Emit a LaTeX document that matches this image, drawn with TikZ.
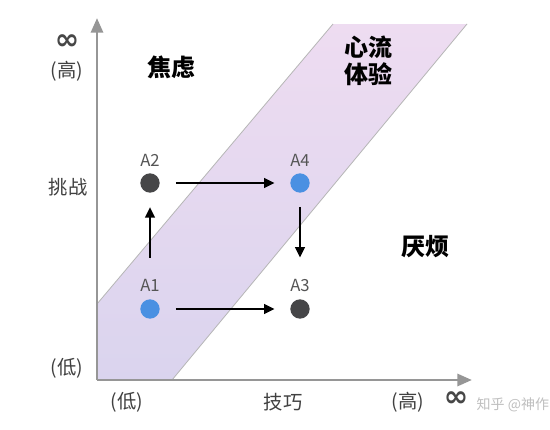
\documentclass[tikz,border=0pt]{standalone}
\usepackage{amsmath,amssymb}
\usepackage{fontspec}
\setmainfont{Noto Sans CJK SC}
\newfontfamily\cjk{Noto Sans CJK SC}
\newfontfamily\symb{DejaVu Sans}
\usetikzlibrary{arrows.meta}

\definecolor{axisgray}{RGB}{150,150,150}
\definecolor{dotgray}{RGB}{70,70,72}
\definecolor{dotblue}{RGB}{74,144,226}
\definecolor{bandlow}{RGB}{218,212,238}
\definecolor{bandhigh}{RGB}{238,220,241}
\definecolor{labgray}{RGB}{85,85,85}

\tikzset{
  dotA/.style={circle,fill=dotblue,minimum size=14.5pt,inner sep=0pt},
  dotB/.style={circle,fill=dotgray,minimum size=14.5pt,inner sep=0pt},
  ptlabel/.style={text=labgray,font=\fontsize{12.5}{12.5}\selectfont},
  zone/.style={font=\cjk\bfseries\fontsize{18}{20}\selectfont,align=center},
  ticktext/.style={text=black!75,font=\cjk\fontsize{14.5}{14.5}\selectfont},
  infsign/.style={text=black!72,font=\symb\bfseries\fontsize{22}{22}\selectfont},
  move/.style={-{Triangle[length=8pt,width=7pt]},line width=2pt,black},
}

\begin{document}
\begin{tikzpicture}[x=0.75pt,y=0.75pt,yscale=-1,xscale=1]
        \useasboundingbox (0,0) rectangle (550,429);
        \fill[white] (0,0) rectangle (550,429);

        %Band [id:flow]
        \shade[bottom color=bandlow,top color=bandhigh] (97,380) -- (97,304) -- (333,24) -- (467,24) -- (172,380) -- cycle;
        \draw[axisgray!70,line width=0.6pt] (97,304) -- (333,24);
        \draw[axisgray!70,line width=0.6pt] (172,380) -- (467,24);

        %Axes
        \draw[axisgray,line width=2.2pt,-{Triangle[length=11pt,width=9pt]}] (97,380) -- (97,18);
        \draw[axisgray,line width=2.2pt,-{Triangle[length=11pt,width=9pt]}] (97,380) -- (472,380);

        % Dots
        \node[dotB] (a2) at (150,183) {};
        \node[dotA] (a4) at (300,183) {};
        \node[dotA] (a1) at (150,309) {};
        \node[dotB] (a3) at (300,309) {};
        \node[ptlabel] (la2) at (150,160) {A2};
        \node[ptlabel] (la4) at (300,160) {A4};
        \node[ptlabel] (la1) at (150,285) {A1};
        \node[ptlabel] (la3) at (300,285) {A3};

        %Straight Lines
        \draw[move,shorten <=12pt,shorten >=11.5pt] (a2) -- (a4);
        \draw[move,shorten <=12pt,shorten >=11.5pt] (a1) -- (a3);
        \draw[move,shorten <=31pt,shorten >=10.5pt] (a1) -- (a2);
        \draw[move,shorten <=10.5pt,shorten >=31pt] (a4) -- (a3);

        % Text Node
        \node[zone] (anx) at (171,67) {焦虑};
        % Text Node
        \node[zone] (flow) at (368,61) {心流\\体验};
        % Text Node
        \node[zone] (bore) at (425,247) {厌烦};
        % Text Node
        \node[infsign] (infy) at (67,42) {∞};
        \node[ticktext] (hy) at (67,71) {(高)};
        \node[ticktext] (chal) at (68,187) {挑战};
        \node[ticktext] (ly) at (67,368) {(低)};
        \node[ticktext] (lx) at (127,402) {(低)};
        \node[ticktext] (skill) at (283,402) {技巧};
        \node[ticktext] (hx) at (408,402) {(高)};
        \node[infsign] (infx) at (456,399) {∞};
        % Text Node
        \node[text=black!25,font=\cjk\fontsize{10.5}{10.5}\selectfont,anchor=west] (mark) at (472,405) {知乎 @神作};
\end{tikzpicture}
\end{document}
